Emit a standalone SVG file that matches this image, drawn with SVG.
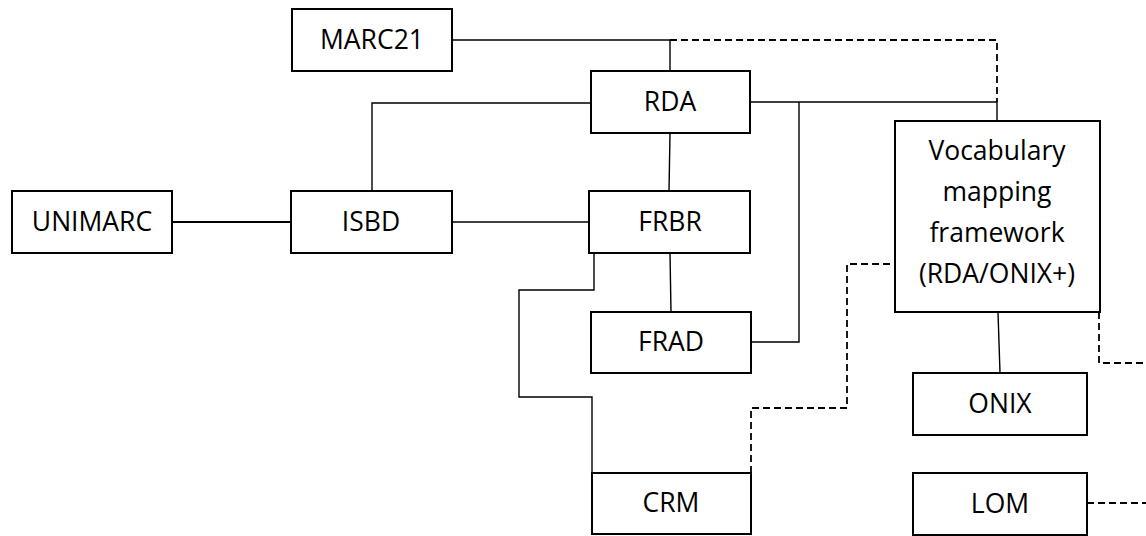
<svg xmlns="http://www.w3.org/2000/svg" width="1146" height="536" viewBox="0 0 1146 536">
<style>
.box{fill:#fff;stroke:#000;stroke-width:2}
.t{font-family:"Open Sans","Noto Sans",sans-serif;font-size:26.5px;fill:#000;text-anchor:middle}
.c{fill:none;stroke:#000;stroke-width:1.4}
.d{fill:none;stroke:#000;stroke-width:1.8;stroke-dasharray:7 4}
</style>
<rect width="1146" height="536" fill="#fff"/>
<g id="connectors">
<polyline class="c" points="452,40 670,40 670,71"/>
<polyline class="d" points="670,40 997,40 997,102"/>
<polyline class="c" points="750,102 997,102 997,121"/>
<polyline class="c" points="799,102 799,342 751,342"/>
<polyline class="c" points="591,103 372,103 372,191"/>
<line class="c" x1="670" y1="133" x2="669" y2="191"/>
<line class="c" x1="172" y1="222" x2="291" y2="222" style="stroke-width:2"/>
<line class="c" x1="452" y1="222" x2="589" y2="222"/>
<line class="c" x1="670" y1="253" x2="671" y2="312"/>
<polyline class="c" points="594,253 594,290 519,290 519,397 592,397 592,473"/>
<polyline class="d" points="751,473 751,408 847,408 847,264 895,264"/>
<polyline class="d" points="1099,312 1099,363 1146,363"/>
<line class="c" x1="998" y1="312" x2="1000" y2="373"/>
<line class="d" x1="1087" y1="503" x2="1146" y2="503"/>
</g>
<g id="MARC21"><rect class="box" x="292" y="9" width="160" height="62"/><text class="t" x="372" y="49">MARC21</text></g>
<g id="RDA"><rect class="box" x="591" y="71" width="159" height="62"/><text class="t" x="670" y="111">RDA</text></g>
<g id="UNIMARC"><rect class="box" x="12" y="191" width="160" height="62"/><text class="t" x="92" y="231">UNIMARC</text></g>
<g id="ISBD"><rect class="box" x="291" y="191" width="161" height="62"/><text class="t" x="371" y="231">ISBD</text></g>
<g id="FRBR"><rect class="box" x="589" y="191" width="161" height="62"/><text class="t" x="670" y="231">FRBR</text></g>
<g id="FRAD"><rect class="box" x="591" y="312" width="160" height="61"/><text class="t" x="671" y="351">FRAD</text></g>
<g id="CRM"><rect class="box" x="592" y="473" width="159" height="61"/><text class="t" x="671" y="512">CRM</text></g>
<g id="Vocabulary"><rect class="box" x="895" y="121" width="205" height="191"/>
<text class="t" x="997" y="160">Vocabulary</text>
<text class="t" x="997" y="201">mapping</text>
<text class="t" x="997" y="242">framework</text>
<text class="t" x="997" y="283">(RDA/ONIX+)</text></g>
<g id="ONIX"><rect class="box" x="913" y="373" width="174" height="62"/><text class="t" x="1000" y="413">ONIX</text></g>
<g id="LOM"><rect class="box" x="913" y="473" width="174" height="62"/><text class="t" x="1000" y="513">LOM</text></g>
</svg>
